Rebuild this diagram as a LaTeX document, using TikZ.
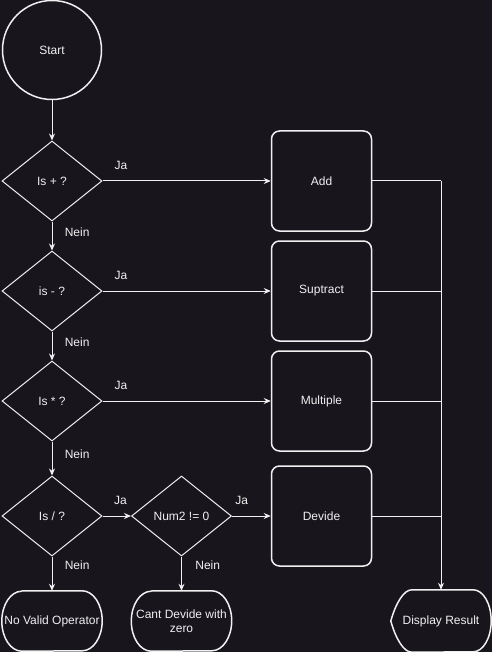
\documentclass[tikz,border=0pt]{standalone}
\usepackage{fontspec}
\setmainfont{Liberation Sans}
\usetikzlibrary{shapes.geometric,arrows.meta}
\definecolor{bg}{HTML}{18151D}
\definecolor{fg}{HTML}{F0F0F0}
\begin{document}
\begin{tikzpicture}[x=1pt,y=-1pt,
		every node/.style={text=fg,font=\fontsize{12}{14}\selectfont},
		frage/.style={diamond,draw=fg,line width=1pt,minimum width=100pt,minimum height=80pt,inner sep=0pt},
		kasten/.style={rectangle,draw=fg,line width=1.5pt,rounded corners=8pt,minimum width=100pt,minimum height=100pt},
		ende/.style={minimum width=100pt,minimum height=60pt,inner sep=0pt,align=center},
		shp/.style={draw=fg,line width=1.5pt},
		pfeil/.style={draw=fg,line width=1pt,-{Stealth[length=7pt,width=6pt]}},
		linie/.style={draw=fg,line width=1pt}]
		\fill[bg] (0,0) rectangle (492,652);
		\useasboundingbox (0,0) rectangle (492,652);
		\node[circle,draw=fg,line width=1.5pt,minimum size=99pt] (start) at (52,50) {Start};
		\node[frage] (plus) at (52,181) {Is + ?};
		\node[frage] (minus) at (52,291) {is - ?};
		\node[frage] (mal) at (52,401) {Is * ?};
		\node[frage] (durch) at (52,516) {Is / ?};
		\node[frage] (null) at (181.5,516) {Num2 != 0};
		\node[kasten] (add) at (321.5,181) {Add};
		\node[kasten] (sub) at (321.5,291) {Suptract};
		\node[kasten] (mul) at (321.5,401) {Multiple};
		\node[kasten] (div) at (321.5,516) {Devide};
		\node[ende] (noop) at (52,621) {No Valid Operator};
		\node[ende] (zero) at (181.5,621) {Cant Devide with\\zero};
		\node[ende,minimum height=62pt] (disp) at (441,621) {Display Result};
		\coordinate (bus) at (441,181);
		% terminals
		\draw[shp] ([xshift=20pt]noop.north west) -- ([xshift=-20pt]noop.north east) arc[start angle=90,end angle=-90,x radius=20pt,y radius=30pt] -- ([xshift=20pt]noop.south west) arc[start angle=270,end angle=90,x radius=20pt,y radius=30pt];
		\draw[shp] ([xshift=20pt]zero.north west) -- ([xshift=-20pt]zero.north east) arc[start angle=90,end angle=-90,x radius=20pt,y radius=30pt] -- ([xshift=20pt]zero.south west) arc[start angle=270,end angle=90,x radius=20pt,y radius=30pt];
		\draw[shp] (disp.west) .. controls +(5,-18) and +(-8,0) .. ([xshift=21pt]disp.north west) -- ([xshift=-18pt]disp.north east) arc[start angle=90,end angle=-90,x radius=18pt,y radius=31pt] -- ([xshift=21pt]disp.south west) .. controls +(-8,0) and +(5,18) .. (disp.west);
		% flow
		\draw[pfeil] (start) -- (plus);
		\draw[pfeil] (plus) -- node[pos=0.37,right=9pt] {Nein} (minus);
		\draw[pfeil] (minus) -- node[pos=0.37,right=9pt] {Nein} (mal);
		\draw[pfeil] (mal) -- node[pos=0.37,right=9pt] {Nein} (durch);
		\draw[pfeil] (durch) -- node[pos=0.26,right=9pt] {Nein} (noop.north);
		\draw[pfeil] (null) -- node[pos=0.26,right=10pt] {Nein} (zero.north);
		\draw[pfeil] (plus.east) -- node[pos=0.11,above=8pt] {Ja} (add);
		\draw[pfeil] (minus.east) -- node[pos=0.11,above=8pt] {Ja} (sub);
		\draw[pfeil] (mal.east) -- node[pos=0.11,above=8pt] {Ja} (mul);
		\draw[pfeil] (durch.east) -- node[pos=0.63,above=8pt] {Ja} (null.west);
		\draw[pfeil] (null.east) -- node[pos=0.25,above=8pt] {Ja} (div);
		\draw[linie] (add.east) -- (bus);
		\draw[linie] (sub.east) -- (sub.east -| bus);
		\draw[linie] (mul.east) -- (mul.east -| bus);
		\draw[linie] (div.east) -- (div.east -| bus);
		\draw[pfeil] (bus) -- (disp.north);
	\end{tikzpicture}
\end{document}
